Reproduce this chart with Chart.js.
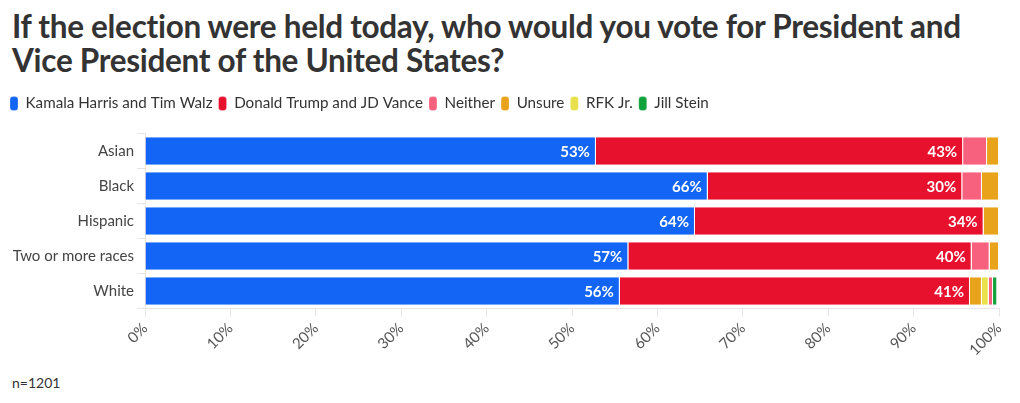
<!DOCTYPE html>
<html>
<head>
<meta charset="utf-8">
<script src="https://cdn.jsdelivr.net/npm/chart.js@4.4.1/dist/chart.umd.min.js"></script>
<style>
  html, body { margin:0; padding:0; background:#fff; }
  body { width:1020px; height:403px; position:relative; overflow:hidden; font-family: Lato, "Open Sans", sans-serif; }
  #title { position:absolute; left:12px; top:9px; font-weight:700; font-size:31.5px; line-height:34px; color:#333; letter-spacing:-0.3px; }
  #note { position:absolute; left:12px; top:374px; font-size:14px; color:#333; }
  #wrap { position:absolute; left:0; top:90px; width:1020px; height:283px; }
</style>
</head>
<body>
<div id="title">If the election were held today, who would you vote for President and<br>Vice President of the United States?</div>
<div id="wrap"><canvas id="c"></canvas></div>
<div id="note">n=1201</div>
<script>
const categories = ["Asian", "Black", "Hispanic", "Two or more races", "White"];
const harris  = [52.8, 65.9, 64.4, 56.6, 55.6];
const trump   = [43.0, 29.8, 33.8, 40.2, 41.0];
const neither = [2.8, 2.3, 0, 2.1, 0.5];
const unsure  = [1.4, 2.0, 1.8, 1.1, 1.4];
const rfk     = [0, 0, 0, 0, 0.8];
const stein   = [0, 0, 0, 0, 0.5];
const xTicks  = ["0%","10%","20%","30%","40%","50%","60%","70%","80%","90%","100%"];

const colors = {
  harris: "#1366f5", trump: "#e8112d", neither: "#f7617d",
  unsure: "#e9a31a", rfk: "#e8e14c", stein: "#12a23c"
};

// White bar shows Neither after RFK Jr.; split Neither into two stacked pieces
const lastIdx = categories.length - 1;
const neitherMain = neither.map((v, i) => i === lastIdx ? 0 : v);
const neitherLate = neither.map((v, i) => i === lastIdx ? v : 0);

const seg = { top:0, bottom:0, left:0, right:1 };
function ds(label, data, color, extra) {
  return Object.assign({ label, data, backgroundColor: color, borderColor: "#fff",
    borderWidth: seg, borderSkipped: false, barPercentage: 0.786, categoryPercentage: 1 }, extra || {});
}
const datasets = [
  ds("Kamala Harris and Tim Walz", harris, colors.harris, { showValue: true }),
  ds("Donald Trump and JD Vance", trump, colors.trump, { showValue: true }),
  ds("Neither", neitherMain, colors.neither),
  ds("Unsure", unsure, colors.unsure),
  ds("RFK Jr.", rfk, colors.rfk),
  ds("Neither", neitherLate, colors.neither, { hideLegend: true }),
  ds("Jill Stein", stein, colors.stein)
];

const valueLabels = {
  id: "valueLabels",
  afterDatasetsDraw(chart) {
    const ctx = chart.ctx;
    ctx.save();
    ctx.font = "700 15px Lato, 'Open Sans', sans-serif";
    ctx.fillStyle = "#fff";
    ctx.textAlign = "right";
    ctx.textBaseline = "middle";
    chart.data.datasets.forEach((d, di) => {
      if (!d.showValue) return;
      chart.getDatasetMeta(di).data.forEach((el, i) => {
        ctx.fillText(Math.round(d.data[i]) + "%", el.x - 6, el.y + 1);
      });
    });
    ctx.restore();
  }
};

// fix the legend block height so the plot area sits where the reference has it
const legendHeight = {
  id: "legendHeight",
  beforeLayout(chart) {
    const lg = chart.legend;
    if (lg && !lg._fixed) {
      const fit = lg.fit;
      lg.fit = function () { fit.call(this); this.height = 43.5; };
      lg._fixed = true;
    }
  }
};

Chart.defaults.font.family = "Lato, 'Open Sans', sans-serif";
Chart.defaults.color = "#444";

new Chart(document.getElementById("c"), {
  type: "bar",
  data: { labels: categories, datasets },
  options: {
    indexAxis: "y",
    responsive: true,
    maintainAspectRatio: false,
    animation: false,
    layout: { padding: { left: 4, right: 21, top: 0, bottom: 0 } },
    plugins: {
      title: { display: false },
      tooltip: { enabled: false },
      legend: {
        position: "top",
        align: "start",
        labels: {
          filter: (item, data) => !data.datasets[item.datasetIndex].hideLegend,
          boxWidth: 8, boxHeight: 14, useBorderRadius: true, borderRadius: 3,
          padding: 6, color: "#333", font: { size: 15.2 }
        }
      }
    },
    scales: {
      x: {
        stacked: true, min: 0, max: 100,
        ticks: { stepSize: 10, maxRotation: 45, minRotation: 45, color: "#555", font: { size: 15 },
          callback: (v, i) => xTicks[i] },
        grid: { drawOnChartArea: false, color: "#e6e6e6", tickLength: 8 },
        border: { color: "#e6e6e6" },
        afterFit: (s) => { s.height = 64.5; }
      },
      y: {
        stacked: true,
        ticks: { color: "#444", font: { size: 15 }, padding: 3 },
        grid: { drawOnChartArea: false, color: "#e6e6e6", tickLength: 8 },
        border: { color: "#f0e6e0", dash: [2, 2] },
        afterFit: (s) => { s.width = 141; }
      }
    }
  },
  plugins: [valueLabels, legendHeight]
});
</script>
</body>
</html>
